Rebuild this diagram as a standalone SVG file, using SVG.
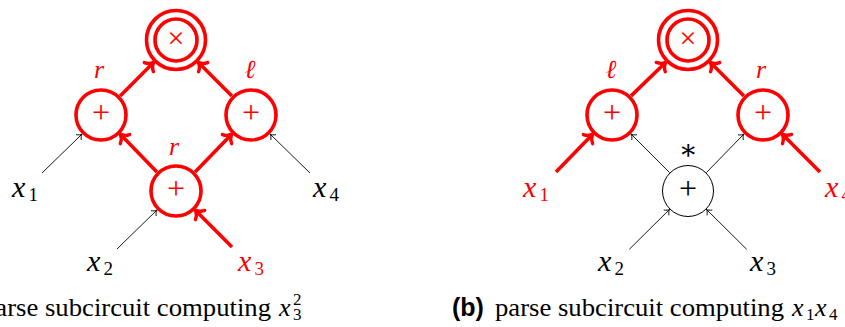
<svg xmlns="http://www.w3.org/2000/svg" width="845" height="327" viewBox="0 0 845 327">
<defs>
<marker id="hr" markerUnits="userSpaceOnUse" viewBox="-10 -10 20 20" markerWidth="20" markerHeight="20" refX="0" refY="0" orient="auto" overflow="visible">
<path d="M -7 -6.5 C -5.5 -3.2 -2.4 -0.8 0 0 C -2.4 0.8 -5.5 3.2 -7 6.5" fill="none" stroke="#ff0000" stroke-width="3.4" stroke-linecap="round" stroke-linejoin="round"/>
</marker>
<marker id="hb" markerUnits="userSpaceOnUse" viewBox="-10 -10 20 20" markerWidth="20" markerHeight="20" refX="0" refY="0" orient="auto" overflow="visible">
<path d="M -4.4 -3.4 C -3.3 -1.7 -1.3 -0.4 0 0 C -1.3 0.4 -3.3 1.7 -4.4 3.4" fill="none" stroke="#000000" stroke-width="0.9" stroke-linecap="round"/>
</marker>
<style>
.rl{stroke:#ff0000;stroke-width:3.6;fill:none;marker-end:url(#hr)}
.bl{stroke:#000000;stroke-width:0.9;fill:none;marker-end:url(#hb)}
.rc{fill:#ffffff;stroke:#ff0000;stroke-width:3.6}
.bc{fill:#ffffff;stroke:#000000;stroke-width:1}
.op{font-family:"Liberation Serif","DejaVu Serif",serif;font-size:32px;text-anchor:middle}
.red{fill:#ff0000}
.blk{fill:#000000}
.v{font-family:"Liberation Serif","DejaVu Serif",serif;font-style:italic;font-size:30px}
.s{font-family:"Liberation Serif","DejaVu Serif",serif;font-style:normal;font-size:19px}
.lbl{font-family:"Liberation Serif","DejaVu Serif",serif;font-style:italic;font-size:26px;text-anchor:middle;fill:#ff0000}
.cap{font-family:"Liberation Serif","DejaVu Serif",serif;font-size:25px;fill:#000000}
.capb{font-family:"Liberation Sans","DejaVu Sans",sans-serif;font-weight:bold;font-size:25px;fill:#000000}
.cm{font-family:"Liberation Serif","DejaVu Serif",serif;font-style:italic;font-size:26px;fill:#000000}
.cs{font-family:"Liberation Serif","DejaVu Serif",serif;font-style:normal;font-size:17px}
</style>
</defs>

<g id="connectors">
<line class="bl" x1="42" y1="173" x2="82" y2="134.1"/>
<line class="bl" x1="310" y1="173" x2="270.1" y2="134.1"/>
<line class="bl" x1="117" y1="249" x2="156.9" y2="210.1"/>
<line class="rl" x1="232" y1="247" x2="195.1" y2="210.1"/>
<line class="rl" x1="156.9" y1="171.9" x2="120.1" y2="134.1"/>
<line class="rl" x1="195.1" y1="171.9" x2="231.9" y2="134.1"/>
<line class="rl" x1="120.1" y1="95.9" x2="153.8" y2="62.2"/>
<line class="rl" x1="231.9" y1="95.9" x2="198.2" y2="62.2"/>

<line class="rl" x1="556" y1="172" x2="592.9" y2="134.1"/>
<line class="rl" x1="820" y1="172" x2="782.1" y2="134.1"/>
<line class="bl" x1="669.6" y1="172.6" x2="631.1" y2="134.1"/>
<line class="bl" x1="706.4" y1="172.6" x2="743.9" y2="134.1"/>
<line class="rl" x1="631.1" y1="95.9" x2="665.8" y2="62.2"/>
<line class="rl" x1="743.9" y1="95.9" x2="710.2" y2="62.2"/>
<line class="bl" x1="629.3" y1="249.3" x2="669.6" y2="209.4"/>
<line class="bl" x1="746.7" y1="249.3" x2="706.4" y2="209.4"/>
</g>

<!-- panel a -->
<g id="a-times">
<circle class="rc" cx="176" cy="40" r="29.5"/>
<circle class="rc" cx="176" cy="40" r="21"/>
<text class="op red" x="176" y="47.5" style="font-size:30px">×</text>
</g>
<g id="a-plus-l">
<circle class="rc" cx="101" cy="115" r="25"/>
<text class="op red" x="101" y="123">+</text>
<text class="lbl" x="99" y="78">r</text>
</g>
<g id="a-plus-r">
<circle class="rc" cx="251" cy="115" r="25"/>
<text class="op red" x="251" y="123">+</text>
<text class="lbl" x="250" y="78">ℓ</text>
</g>
<g id="a-plus-b">
<circle class="rc" cx="176" cy="191" r="25"/>
<text class="op red" x="176" y="199">+</text>
<text class="lbl" x="174" y="155">r</text>
</g>
<g id="a-x1"><text class="v blk" x="12" y="197">x<tspan class="s" x="28.5" y="201">1</tspan></text></g>
<g id="a-x4"><text class="v blk" x="313" y="197">x<tspan class="s" x="329.5" y="201">4</tspan></text></g>
<g id="a-x2"><text class="v blk" x="87" y="271">x<tspan class="s" x="103.5" y="275">2</tspan></text></g>
<g id="a-x3"><text class="v red" x="238" y="271">x<tspan class="s" x="254.5" y="275">3</tspan></text></g>

<!-- panel b -->
<g id="b-times">
<circle class="rc" cx="688" cy="40" r="29.5"/>
<circle class="rc" cx="688" cy="40" r="21"/>
<text class="op red" x="688" y="47.5" style="font-size:30px">×</text>
</g>
<g id="b-plus-l">
<circle class="rc" cx="612" cy="115" r="25"/>
<text class="op red" x="612" y="123">+</text>
<text class="lbl" x="611" y="78">ℓ</text>
</g>
<g id="b-plus-r">
<circle class="rc" cx="763" cy="115" r="25"/>
<text class="op red" x="763" y="123">+</text>
<text class="lbl" x="761" y="78">r</text>
</g>
<g id="b-plus-b">
<circle class="bc" cx="688" cy="191" r="25.5"/>
<text class="op blk" x="688" y="199">+</text>
<text class="op blk" x="688" y="159" style="font-size:28px">∗</text>
</g>
<g id="b-x1"><text class="v red" x="523" y="197">x<tspan class="s" x="539.5" y="201">1</tspan></text></g>
<g id="b-x4"><text class="v red" x="825" y="197">x<tspan class="s" x="841.5" y="201">4</tspan></text></g>
<g id="b-x2"><text class="v blk" x="598" y="271">x<tspan class="s" x="614.5" y="275">2</tspan></text></g>
<g id="b-x3"><text class="v blk" x="750" y="271">x<tspan class="s" x="766.5" y="275">3</tspan></text></g>

<!-- captions -->
<g id="caption-a">
<text class="cap" x="-18" y="316" textLength="289" lengthAdjust="spacingAndGlyphs">parse subcircuit computing</text>
<text class="cm" x="279" y="316">x<tspan class="cs" x="293" y="320">3</tspan><tspan class="cs" x="293" y="305">2</tspan></text>
</g>
<g id="caption-b">
<text class="capb" x="452" y="316">(b)</text>
<text class="cap" x="495" y="316" textLength="289" lengthAdjust="spacingAndGlyphs">parse subcircuit computing</text>
<text class="cm" x="792" y="316">x<tspan class="cs" x="806" y="320">1</tspan><tspan x="815" y="316">x</tspan><tspan class="cs" x="829" y="320">4</tspan></text>
</g>
</svg>
